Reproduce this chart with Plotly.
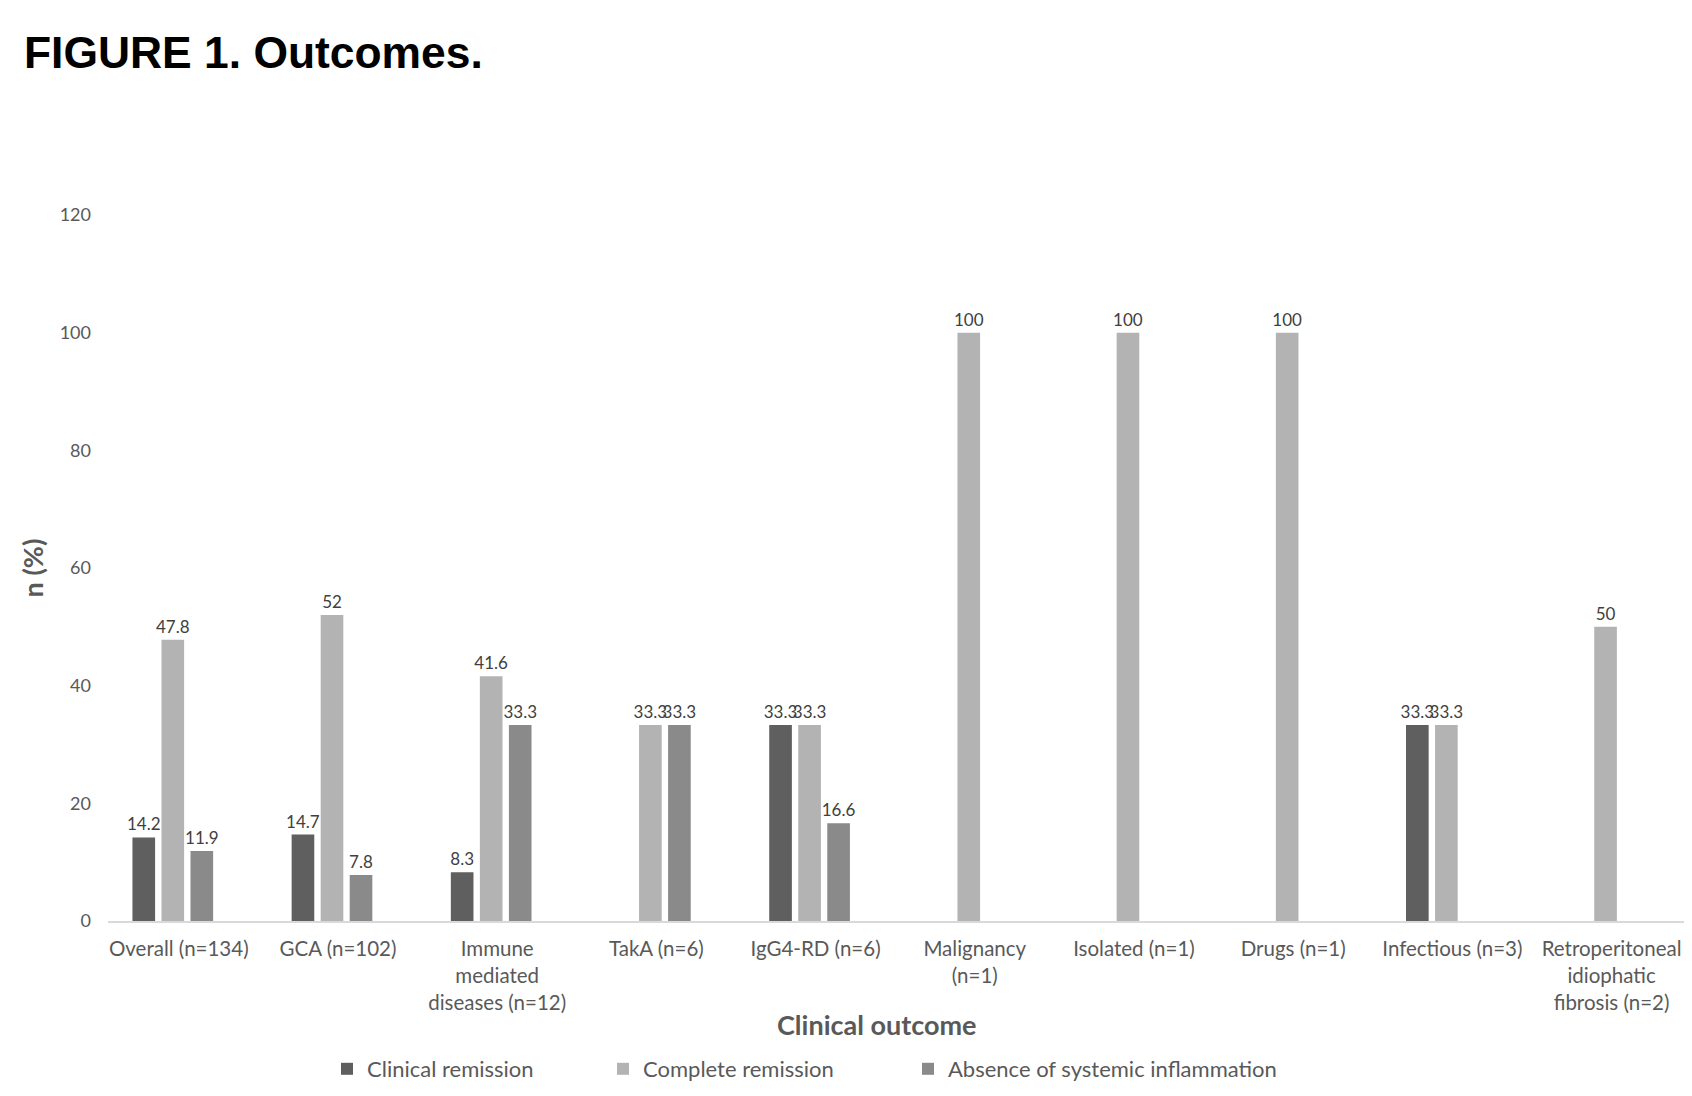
import plotly.graph_objects as go

categories = [
    "Overall (n=134)",
    "GCA (n=102)",
    "Immune<br>mediated<br>diseases (n=12)",
    "TakA (n=6)",
    "IgG4-RD (n=6)",
    "Malignancy<br>(n=1)",
    "Isolated (n=1)",
    "Drugs (n=1)",
    "Infectious (n=3)",
    "Retroperitoneal<br>idiophatic<br>fibrosis (n=2)",
]
clinical_remission = [14.2, 14.7, 8.3, None, 33.3, None, None, None, 33.3, None]
complete_remission = [47.8, 52, 41.6, 33.3, 33.3, 100, 100, 100, 33.3, 50]
absence_inflammation = [11.9, 7.8, 33.3, 33.3, 16.6, None, None, None, None, None]

series = [
    ("Clinical remission", clinical_remission, "#5f5f5f", "legend"),
    ("Complete remission", complete_remission, "#b3b3b3", "legend2"),
    ("Absence of systemic inflammation", absence_inflammation, "#8a8a8a", "legend3"),
]

FONT = "Lato"

fig = go.Figure()
for name, vals, color, lg in series:
    fig.add_trace(go.Bar(
        x=categories, y=vals, name=name, legend=lg,
        marker=dict(color=color, line=dict(width=0)),
        text=[("" if v is None else f"{v:g}") for v in vals],
        textposition="outside",
        constraintext="none",
        cliponaxis=False,
        textfont=dict(family=FONT, size=17, color="#404040"),
    ))

W, H = 1692, 1096
legend_common = dict(orientation="h", xref="container", yref="container",
                     xanchor="left", y=1 - 1061 / H, yanchor="middle", itemwidth=30,
                     font=dict(family=FONT, size=22, color="#595959"))
fig.update_layout(
    width=W, height=H,
    paper_bgcolor="white", plot_bgcolor="white",
    barmode="group", bargap=0.453, bargroupgap=0.22,
    margin=dict(l=100, r=8, t=207, b=183, autoexpand=False),
    title=dict(text="<b>FIGURE 1. Outcomes.</b>", xref="container", yref="container",
               x=16 / W, y=1 - 44 / H, xanchor="left", yanchor="middle",
               font=dict(family="Liberation Sans", size=44.4, color="black")),
    font=dict(family=FONT, color="#595959"),
    showlegend=True,
    legend=dict(x=319 / W, **legend_common),
    legend2=dict(x=595 / W, **legend_common),
    legend3=dict(x=900 / W, **legend_common),
    annotations=[dict(text="<b>Clinical outcome</b>", xref="paper", yref="paper",
                      x=0.4855, y=-0.1473, xanchor="center", yanchor="middle",
                      showarrow=False,
                      font=dict(family=FONT, size=27, color="#595959"))],
)
fig.update_xaxes(
    range=[-0.407, 9.543],
    showline=True, linecolor="#d9d9d9", linewidth=1.5, ticks="", showgrid=False,
    ticklabelstandoff=9, ticklabelshift=6,
    tickfont=dict(family=FONT, size=20.5, color="#595959"),
)
fig.update_yaxes(
    range=[0, 120], dtick=20, showgrid=False, showline=False, zeroline=False, ticks="",
    ticklabelstandoff=16,
    tickfont=dict(family=FONT, size=18, color="#595959"),
    title=dict(text="<b>n (%)</b>", standoff=8,
               font=dict(family=FONT, size=27, color="#595959")),
)

fig.write_html("out.html")
